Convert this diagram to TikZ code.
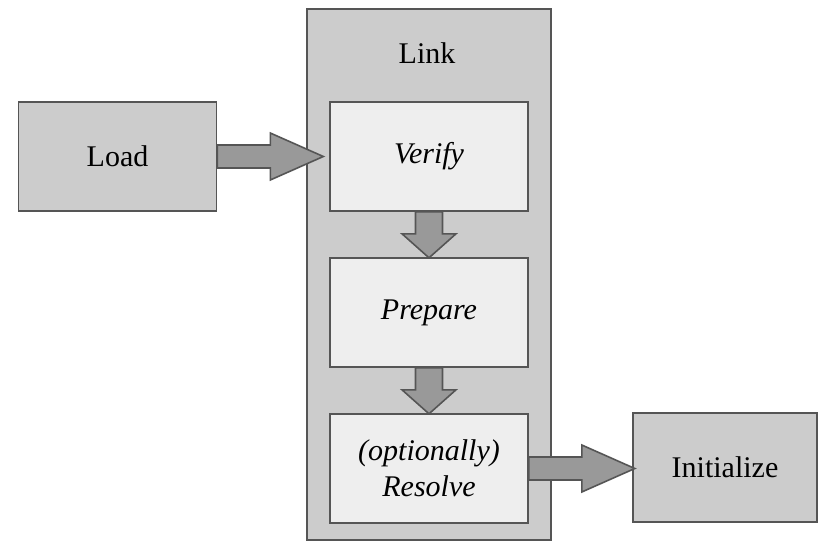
\documentclass[tikz,border=0pt]{standalone}
\usepackage{fontspec}
\setmainfont{Liberation Serif}
\usetikzlibrary{positioning}

\definecolor{boxgray}{HTML}{CCCCCC}
\definecolor{stepgray}{HTML}{EEEEEE}
\definecolor{arrowgray}{HTML}{999999}
\definecolor{edgegray}{HTML}{555555}

\begin{document}
\begin{tikzpicture}[x=0.5pt, y=-0.5pt,
  font=\fontsize{15}{18}\selectfont,
  phase/.style={draw=edgegray, line width=0.8pt, fill=boxgray,
    minimum width=99pt, minimum height=54.5pt, inner sep=0pt},
  substep/.style={phase, fill=stepgray, font=\fontsize{15}{18}\selectfont\itshape,
    align=center},
  bigarrow/.style={draw=edgegray, line width=0.8pt, fill=arrowgray, line join=miter}]
\useasboundingbox (0,0) rectangle (821,546);

% Linking box with its three steps
\node[phase, minimum width=122pt, minimum height=265.5pt] (link) at (429,274.5) {};
\node (linklabel) at (427,53) {Link};
\node[substep] (verify) at (429,156.5) {Verify};
\node[substep, below=22.7pt of verify] (prepare) {Prepare};
\node[substep, below=22.7pt of prepare] (resolve) {(optionally)\\Resolve};

% outer phases
\node[phase] (load) at (117.5,156.5) {Load};
\node[phase, minimum width=92pt] (init) at (725,467.5) {Initialize};

% block arrows
\draw[bigarrow] (load.east) ++(0,-11.5) -- ++(53,0) -- ++(0,-12) -- ++(53,23.5)
  -- ++(-53,23.5) -- ++(0,-12) -- ++(-53,0) -- cycle;
\draw[bigarrow] (verify.south) ++(-13.5,0) -- ++(0,22) -- ++(-13.5,0) -- ++(27,24)
  -- ++(27,-24) -- ++(-13.5,0) -- ++(0,-22) -- cycle;
\draw[bigarrow] (prepare.south) ++(-13.5,0) -- ++(0,22) -- ++(-13.5,0) -- ++(27,24)
  -- ++(27,-24) -- ++(-13.5,0) -- ++(0,-22) -- cycle;
\draw[bigarrow] (resolve.east) ++(0,-11.5) -- ++(53,0) -- ++(0,-12) -- ++(53,23.5)
  -- ++(-53,23.5) -- ++(0,-12) -- ++(-53,0) -- cycle;
\end{tikzpicture}
\end{document}
